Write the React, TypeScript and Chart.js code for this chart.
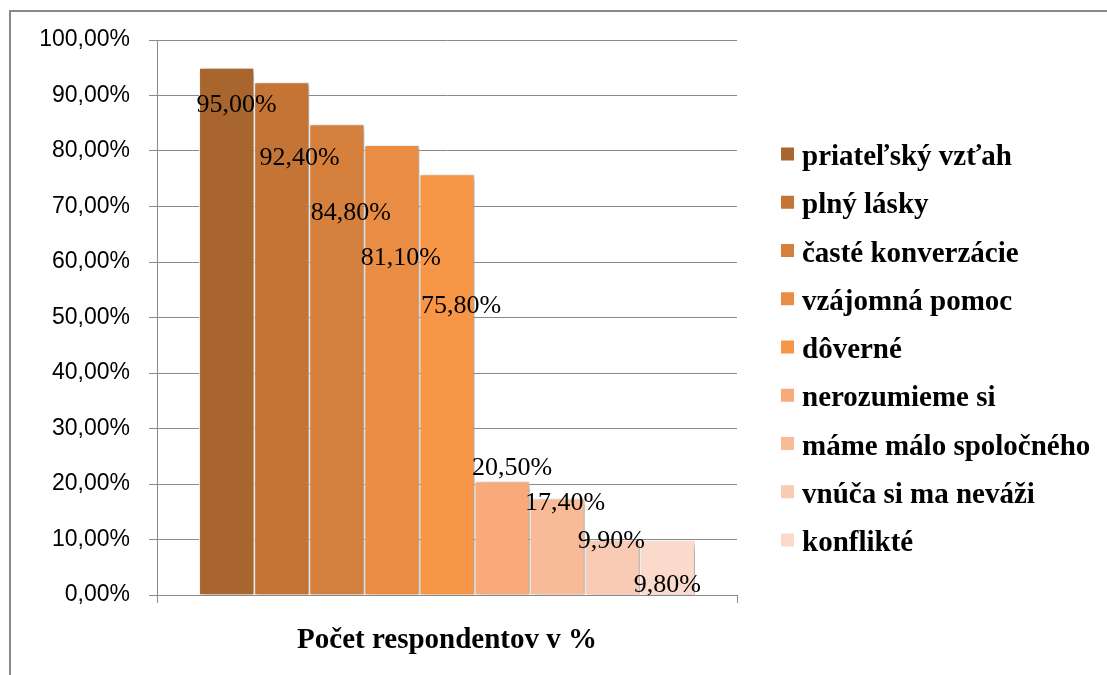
import { useEffect, useRef } from 'react';
import { Chart, registerables } from 'chart.js';

Chart.register(...registerables);

// ---- data ----
const categories = ['Počet respondentov v %'];
const seriesNames = [
  'priateľský vzťah',
  'plný lásky',
  'časté konverzácie',
  'vzájomná pomoc',
  'dôverné',
  'nerozumieme si',
  'máme málo spoločného',
  'vnúča si ma neváži',
  'konflikté',
];
const seriesValues = [95.0, 92.4, 84.8, 81.1, 75.8, 20.5, 17.4, 9.9, 9.8];
const yTickMin = 0;
const yTickMax = 100;
const yTickStep = 10;

// ---- styles ----
const seriesColors = [
  '#A9652E',
  '#C47536',
  '#D5803D',
  '#E88D43',
  '#F79646',
  '#F8AA7A',
  '#F9BA98',
  '#FACBB4',
  '#FCDACB',
];
// label placement relative to the bar's top-centre: [dx, baseline dy] in px
const labelShift: [number, number][] = [
  [10, 44],
  [18, 83],
  [14, 96],
  [9, 120],
  [14, 139],
  [10, -6],
  [8, 12],
  [-1, 8],
  [0, 51],
];
const GRID = '#898989';
const SERIF = '"Liberation Serif", "Times New Roman", serif';
const SANS = '"Liberation Sans", Arial, sans-serif';

const fmtPct = (v: number) => v.toFixed(2).replace('.', ',') + '%';

const framePlugin = {
  id: 'frame',
  beforeDraw(chart: any) {
    const ctx = chart.ctx;
    ctx.save();
    ctx.strokeStyle = GRID;
    ctx.lineWidth = 2;
    ctx.strokeRect(10, 11, chart.width + 50, chart.height + 50);
    ctx.restore();
  },
};

const shadowPlugin = {
  id: 'barShadow',
  beforeDatasetsDraw(chart: any) {
    const ctx = chart.ctx;
    ctx.save();
    ctx.shadowColor = 'rgba(0,0,0,0.38)';
    ctx.shadowBlur = 6;
    ctx.shadowOffsetX = 3;
    ctx.shadowOffsetY = 2;
  },
  afterDatasetsDraw(chart: any) {
    chart.ctx.restore();
  },
};

const labelPlugin = {
  id: 'valueLabels',
  afterDatasetsDraw(chart: any) {
    const ctx = chart.ctx;
    ctx.save();
    ctx.font = `26px ${SERIF}`;
    ctx.fillStyle = '#000';
    ctx.textAlign = 'center';
    ctx.textBaseline = 'alphabetic';
    chart.data.datasets.forEach((ds: any, i: number) => {
      const meta = chart.getDatasetMeta(i);
      meta.data.forEach((bar: any, j: number) => {
        const [dx, dy] = labelShift[i] || [0, 0];
        ctx.fillText(fmtPct(ds.data[j]), bar.x + dx, bar.y + dy);
      });
    });
    ctx.restore();
  },
};

const legendPlugin = {
  id: 'sideLegend',
  afterDraw(chart: any) {
    const ctx = chart.ctx;
    const x0 = chart.chartArea.right + 44;
    const y0 = 154;
    const step = 48.25;
    ctx.save();
    ctx.font = `bold 29px ${SERIF}`;
    ctx.fillStyle = '#000';
    ctx.textAlign = 'left';
    ctx.textBaseline = 'alphabetic';
    chart.data.datasets.forEach((ds: any, i: number) => {
      const cy = y0 + i * step;
      ctx.fillStyle = ds.backgroundColor;
      ctx.fillRect(x0, cy - 6.5, 13, 13);
      ctx.fillStyle = '#000';
      ctx.fillText(ds.label, x0 + 21, cy + 11);
    });
    ctx.restore();
  },
};

export default function App() {
  const ref = useRef<HTMLCanvasElement>(null);

  useEffect(() => {
    if (!ref.current) return;
    const chart = new Chart(ref.current, {
      type: 'bar',
      data: {
        labels: categories,
        datasets: seriesNames.map((name, i) => ({
          label: name,
          data: [seriesValues[i]],
          backgroundColor: seriesColors[i],
          borderColor: '#ffffff',
          borderWidth: 1,
          barPercentage: 1,
          categoryPercentage: 0.855,
        })),
      },
      options: {
        responsive: false,
        animation: false,
        layout: { padding: { left: 0, right: 370, top: 40, bottom: 20 } },
        plugins: {
          legend: { display: false },
          tooltip: { enabled: false },
          title: { display: false },
        },
        scales: {
          x: {
            grid: {
              offset: true,
              drawOnChartArea: false,
              drawTicks: true,
              tickLength: 8,
              color: GRID,
              lineWidth: 1,
            },
            border: { display: true, color: GRID, width: 1 },
            ticks: {
              color: '#000',
              padding: 20,
              font: { family: SERIF, size: 29, weight: 'bold' },
            },
            afterFit(scale: any) {
              scale.height = 60;
            },
          },
          y: {
            min: yTickMin,
            max: yTickMax,
            grid: {
              color: GRID,
              lineWidth: 1,
              drawTicks: true,
              tickLength: 8,
            },
            border: { display: true, color: GRID, width: 1 },
            ticks: {
              stepSize: yTickStep,
              color: '#000',
              padding: 19,
              font: { family: SANS, size: 23 },
              callback: (v: any) => fmtPct(Number(v)),
            },
            afterFit(scale: any) {
              scale.width = 157;
            },
          },
        },
      },
      plugins: [framePlugin, shadowPlugin, labelPlugin, legendPlugin],
    });
    return () => chart.destroy();
  }, []);

  return (
    <div style={{ position: 'absolute', left: 0, top: 0, width: 1107, height: 675, background: '#fff' }}>
      <canvas ref={ref} width={1107} height={675} style={{ display: 'block' }} />
    </div>
  );
}
